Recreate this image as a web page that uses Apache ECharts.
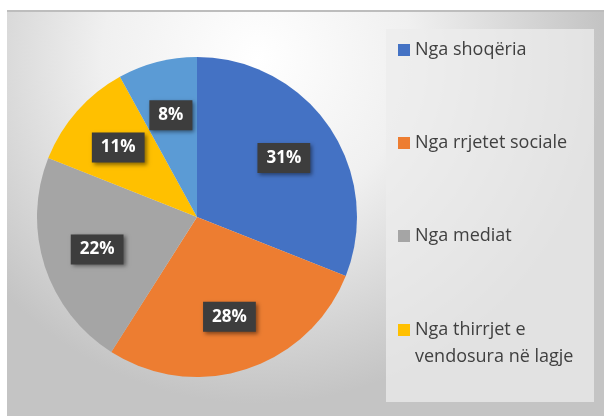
<!DOCTYPE html>
<html>
<head>
<meta charset="utf-8">
<script src="https://cdn.jsdelivr.net/npm/echarts@6/dist/echarts.min.js"></script>
<style>html,body{margin:0;padding:0;background:#fff}#c{width:604px;height:416px}</style>
</head>
<body>
<div id="c"></div>
<script>
const categories = ['Nga shoqëria', 'Nga rrjetet sociale', 'Nga mediat', 'Nga thirrjet e vendosura në lagje', 'Të tjera'];
const values = [31, 28, 22, 11, 8];
const colors = ['#4472C4', '#ED7D31', '#A5A5A5', '#FFC000', '#5B9BD5'];

const chart = echarts.init(document.getElementById('c'));
const pieData = categories.map((n, i) => ({ name: n, value: values[i] }));
const legendText = { fontFamily: 'Open Sans', fontSize: 18, lineHeight: 27, color: '#404040' };

chart.setOption({
  animation: false,
  color: colors,
  graphic: [
    { type: 'rect', z: -10, shape: { x: 7, y: 10, width: 597, height: 406 },
      style: { fill: { type: 'radial', x: 0.42, y: 0.12, r: 0.85,
        colorStops: [{ offset: 0, color: '#ffffff' }, { offset: 0.45, color: '#f0f0f0' }, { offset: 1, color: '#c4c4c4' }] } } },
    { type: 'rect', z: -9, shape: { x: 7, y: 10, width: 597, height: 2 }, style: { fill: '#bdbdbd' } },
    { type: 'rect', z: -8, shape: { x: 386, y: 29, width: 208, height: 373 },
      style: { fill: 'rgba(236,236,236,0.75)' } }
  ],
  legend: [
    { orient: 'vertical', left: 398, top: 36.5, padding: 0, itemGap: 66,
      itemWidth: 12, itemHeight: 12, icon: 'rect',
      data: categories.slice(0, 3), textStyle: legendText, selectedMode: false },
    { orient: 'vertical', left: 398, top: 289.5, padding: 0,
      itemWidth: 12, itemHeight: 12, icon: 'rect',
      data: categories.slice(3, 4),
      formatter: name => '\u00a0\n' + name,
      textStyle: Object.assign({}, legendText, { width: 172, overflow: 'break' }),
      selectedMode: false }
  ],
  series: [
    { type: 'pie', center: [197, 217], radius: 160, startAngle: 90, clockwise: true,
      data: pieData, label: { show: false }, labelLine: { show: false },
      itemStyle: { borderWidth: 0 }, emphasis: { disabled: true } },
    { type: 'pie', center: [197, 217], radius: [44, 160], startAngle: 90, clockwise: true,
      data: pieData, silent: true, z: 5,
      itemStyle: { color: 'rgba(0,0,0,0)' }, emphasis: { disabled: true },
      labelLine: { show: false },
      label: { show: true, position: 'inside', formatter: '{d}%',
        fontFamily: 'Open Sans', fontWeight: 'bold', fontSize: 17, lineHeight: 20,
        color: '#ffffff', backgroundColor: '#3d3d3d', padding: [5, 9],
        shadowColor: 'rgba(0,0,0,0.45)', shadowBlur: 4, shadowOffsetX: 2, shadowOffsetY: 2 } }
  ]
});
</script>
</body>
</html>
